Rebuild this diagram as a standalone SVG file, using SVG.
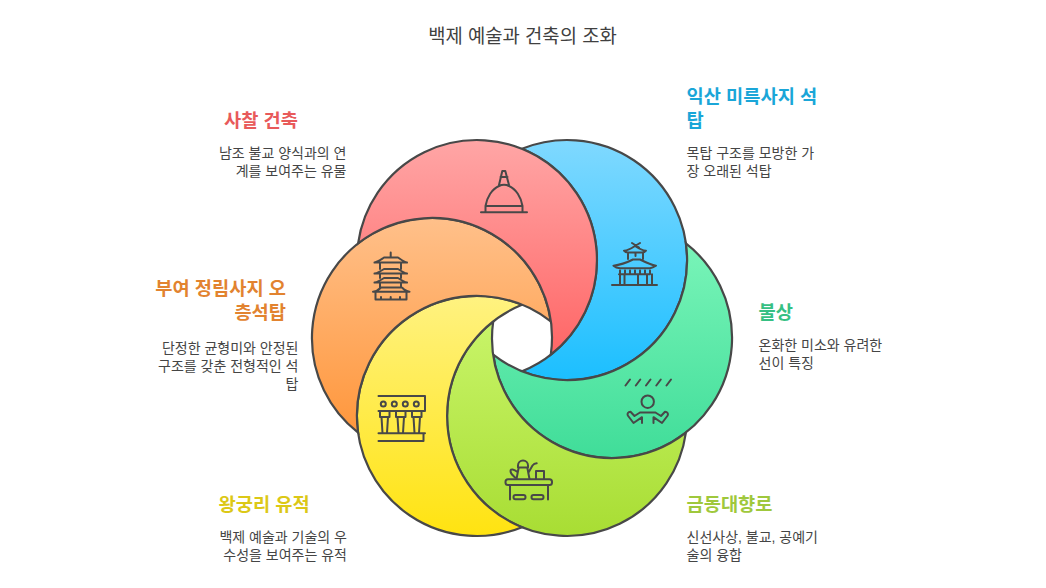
<svg xmlns="http://www.w3.org/2000/svg" width="1046" height="588" viewBox="0 0 1046 588">
<style>
text{font-family:"Liberation Sans","Noto Sans CJK KR",sans-serif}
.t{font-size:18.8px;fill:#404040;text-anchor:middle}
.h{font-size:18.7px;font-weight:700}
.b{font-size:14px;fill:#454545}
.e{text-anchor:end}
.s{fill-rule:evenodd;stroke:#484848;stroke-width:2.2}
.i{fill:none;stroke:#484848;stroke-width:2;stroke-linecap:round;stroke-linejoin:round}
</style>
<defs>
<linearGradient id="gr" gradientUnits="userSpaceOnUse" x1="0" y1="139" x2="0" y2="355"><stop offset="0" stop-color="#ffa6a6"/><stop offset="1" stop-color="#ff6666"/></linearGradient>
<linearGradient id="gb" gradientUnits="userSpaceOnUse" x1="0" y1="139" x2="0" y2="379"><stop offset="0" stop-color="#80d9ff"/><stop offset="1" stop-color="#1cbfff"/></linearGradient>
<linearGradient id="gg" gradientUnits="userSpaceOnUse" x1="0" y1="218" x2="0" y2="458"><stop offset="0" stop-color="#80f7bc"/><stop offset="1" stop-color="#40dd99"/></linearGradient>
<linearGradient id="gl" gradientUnits="userSpaceOnUse" x1="0" y1="297" x2="0" y2="537"><stop offset="0" stop-color="#ccf76f"/><stop offset="1" stop-color="#a8dd33"/></linearGradient>
<linearGradient id="gy" gradientUnits="userSpaceOnUse" x1="0" y1="297" x2="0" y2="537"><stop offset="0" stop-color="#fff280"/><stop offset="1" stop-color="#ffe310"/></linearGradient>
<linearGradient id="go" gradientUnits="userSpaceOnUse" x1="0" y1="218" x2="0" y2="458"><stop offset="0" stop-color="#ffc08a"/><stop offset="1" stop-color="#ff9233"/></linearGradient>
</defs>
<text class="t" x="522.5" y="43">백제 예술과 건축의 조화</text>
<g id="connectors"></g>
<g id="node-blue">
<path class="s" fill="url(#gb)" d="M522 148.8A120 120 0 1 1 522 371.2A120 120 0 0 0 522 148.8Z"/>
<path class="i" d="M612 285H657M620 285V274.3M624.5 285V274.3M638 285V274.3M647 285V274.3M652 285V274.3M619 274.3H650M620 270.5V274M625 270.5V274M630 270.5V274M635 270.5V274M640 270.5V274M645 270.5V274M650 270.5V274M613.5 265.7C620 265 628 262 633 259.5H640C645 262 651 265 656 265.7C654 267 652 268 650 268.3H620C617 268 615 267 613.5 265.7ZM628 253V259M643 253V259M635.5 253V256M624 250.7C628 250.5 632 248 635 246C638 248 642 250.5 646 250.7C645 252 644 252.5 642 252.5H628C626 252.5 625 252 624 250.7ZM632 243L639 247.5M640 243L632.5 247.5"/>
</g>
<g id="node-green">
<path class="s" fill="url(#gg)" d="M685.9 243.4A120 120 0 1 1 493.2 354.6A120 120 0 0 0 685.9 243.4Z"/>
<path class="i" d="M625.5 385.5L630 379.5M635.8 385.5L640.3 379.5M646 385.5L650.5 379.5M656.3 385.5L660.8 379.5M666.5 385.5L671 379.5"/>
<circle class="i" cx="647.7" cy="401.7" r="6.2"/>
<path class="i" d="M640 412.5H655.4M640 412.5L634.5 416L630.5 411.7C628 412 627 413.5 627.8 415.5L633.5 423L642 417.2V423M655.4 412.5L661 416L665 411.7C667.5 412 668.5 413.5 667.7 415.5L662 423L653.5 417.2V423"/>
</g>
<g id="node-lime">
<path class="s" fill="url(#gl)" d="M685.9 432.6A120 120 0 1 1 493.2 321.4A120 120 0 0 0 685.9 432.6Z"/>
<path class="i" d="M510 485V499.5M548 485V499.5M518 467.5V465.5A5 5 0 0 1 528 465.5V467.5ZM518.7 467.5L516.5 479M527.3 467.5L529.5 479M528.8 472L532.5 465.5Q534 463.5 536.7 463.3M517.5 472C514 469 510.5 468.5 510.5 471C510.5 474 513 475.5 515 477.5M536 479V471H544V479"/>
<rect class="i" x="505.5" y="479.3" width="46.5" height="5.7" rx="2.5"/>
<rect class="i" x="513.5" y="495" width="12" height="4.3" rx="2"/>
<rect class="i" x="531.5" y="495" width="12" height="4.3" rx="2"/>
</g>
<g id="node-yellow">
<path class="s" fill="url(#gy)" d="M522 527.2A120 120 0 1 1 522 304.8A120 120 0 0 0 522 527.2Z"/>
<path class="i" d="M378.5 396H425V411H378.5M378.5 433.3H425M378.5 441H423.5V433.3M380 411V417H389.5V411M396 411V417H405.5V411M412 411V417H421.5V411M381.5 417L382.5 433M388 417L387 433M397.5 417L398.5 433M404 417L403 433M413.5 417L414.5 433M420 417L419 433"/>
<circle class="i" cx="383.3" cy="404" r="2.5"/><circle class="i" cx="394.3" cy="404" r="2.5"/><circle class="i" cx="405.3" cy="404" r="2.5"/><circle class="i" cx="416.3" cy="404" r="2.5"/>
</g>
<g id="node-orange">
<path class="s" fill="url(#go)" d="M358.1 432.6A120 120 0 1 1 550.8 321.4A120 120 0 0 0 358.1 432.6Z"/>
<path class="i" d="M390.7 252.5V257.5M374.5 262.5H407M374.5 262.5C378 262 381 259.5 384 257.5H398C401 259.5 404 262 407 262.5M380 262.5V269M401 262.5V269M374.5 273.5H407M374.5 273.5C378 273 381 271 384 269H398C401 271 404 273 407 273.5M380 273.5V278M401 273.5V278M374.5 282.5H407M374.5 282.5C378 282 381 280 384 278H398C401 280 404 282 407 282.5M380 282.5V287.5M401 282.5V287.5M373 291.7H409.5M373 291.7C377 291.5 379 289.5 381 287.5H402C404 289.5 406 291.5 409.5 291.7M375.5 291.7V299.5H406.5V291.7M381 297V299.5M390.7 297V299.5M400 297V299.5"/>
</g>
<g id="node-red">
<path class="s" fill="url(#gr)" d="M358.1 243.4A120 120 0 1 1 550.8 354.6A120 120 0 0 0 358.1 243.4Z"/>
<path class="i" d="M481 212.3H527M485.5 212.3V206H522.5V212.3M485.5 206C487 197 492 189 499 186C502 184.5 506 184.5 509 186C516 189 521 197 522.5 206M499 185L502.3 171H505.3L509 185M500.5 177H507.5"/>
</g>
<g id="label-red"><text class="h e" x="298" y="127" fill="#e85a5a">사찰 건축</text>
<text class="b e" y="158"><tspan x="346.5">남조 불교 양식과의 연</tspan><tspan x="346.5" dy="18">계를 보여주는 유물</tspan></text></g>
<g id="label-blue"><text class="h" y="103" fill="#1aa6d8"><tspan x="686.5">익산 미륵사지 석</tspan><tspan x="686.5" dy="24">탑</tspan></text>
<text class="b" y="158"><tspan x="686.5">목탑 구조를 모방한 가</tspan><tspan x="686.5" dy="18">장 오래된 석탑</tspan></text></g>
<g id="label-green"><text class="h" x="758.5" y="319" fill="#35c083">불상</text>
<text class="b" y="350"><tspan x="758.5">온화한 미소와 유려한</tspan><tspan x="758.5" dy="18">선이 특징</tspan></text></g>
<g id="label-lime"><text class="h" x="686.5" y="511" fill="#9fc83c">금동대향로</text>
<text class="b" y="542"><tspan x="686.5">신선사상, 불교, 공예기</tspan><tspan x="686.5" dy="18">술의 융합</tspan></text></g>
<g id="label-yellow"><text class="h" x="218.5" y="511" fill="#dcc816">왕궁리 유적</text>
<text class="b e" y="542"><tspan x="347">백제 예술과 기술의 우</tspan><tspan x="347" dy="18">수성을 보여주는 유적</tspan></text></g>
<g id="label-orange"><text class="h e" y="295" fill="#e2832f"><tspan x="286">부여 정림사지 오</tspan><tspan x="286" dy="24">층석탑</tspan></text>
<text class="b e" y="353"><tspan x="298.5">단정한 균형미와 안정된</tspan><tspan x="298.5" dy="18">구조를 갖춘 전형적인 석</tspan><tspan x="298.5" dy="18">탑</tspan></text></g>
</svg>
